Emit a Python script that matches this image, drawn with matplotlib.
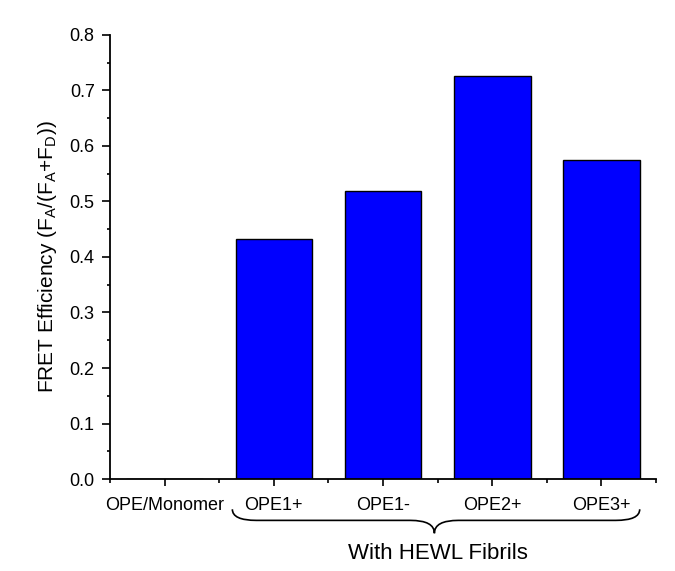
import numpy as np
import matplotlib
matplotlib.use("Agg")
import matplotlib.pyplot as plt
from matplotlib.path import Path
from matplotlib.patches import PathPatch
from matplotlib.ticker import MultipleLocator, FixedLocator, FormatStrFormatter
import matplotlib.transforms as mtransforms

plt.rcParams["font.family"] = ["Liberation Sans", "DejaVu Sans"]

# data
samples = ["OPE/Monomer", "OPE1+", "OPE1-", "OPE2+", "OPE3+"]
fret_eff = [0.0, 0.432, 0.519, 0.726, 0.575]
group_label = "With HEWL Fibrils"

fig = plt.figure(figsize=(6.75, 5.71), dpi=100)
ax = fig.add_axes([0.163, 0.161, 0.809, 0.778])

x = np.arange(1, len(samples) + 1)
ax.bar(x, fret_eff, width=0.7, color="#0000FF", edgecolor="black", linewidth=1.0)

ax.set_xlim(0.5, len(samples) + 0.5)
ax.set_ylim(0, 0.8)
ax.set_xticks(x)
ax.set_xticklabels(samples)
ax.xaxis.set_minor_locator(FixedLocator(np.arange(0.5, len(samples) + 1, 1.0)))
ax.yaxis.set_major_locator(MultipleLocator(0.1))
ax.yaxis.set_minor_locator(MultipleLocator(0.05))
ax.yaxis.set_major_formatter(FormatStrFormatter("%.1f"))

ax.tick_params(axis="x", which="major", direction="out", length=5, width=1.2, pad=8, labelsize=13)
ax.tick_params(axis="x", which="minor", direction="out", length=3, width=1.2)
ax.tick_params(axis="y", which="major", direction="out", length=6, width=1.2, pad=5, labelsize=13)
ax.tick_params(axis="y", which="minor", direction="out", length=2.5, width=1.2)

for s in ["top", "right"]:
    ax.spines[s].set_visible(False)
for s in ["left", "bottom"]:
    ax.spines[s].set_linewidth(1.3)

ax.set_ylabel(r"FRET Efficiency (F$_\mathregular{A}$/(F$_\mathregular{A}$+F$_\mathregular{D}$))",
              fontsize=15, labelpad=8)

# curly brace under the fibril samples
trans = mtransforms.blended_transform_factory(ax.transData, ax.transAxes)
x0, x1, xc = 1.62, 5.35, 3.47
y_top, y_mid, y_tip = -0.068, -0.093, -0.122
r = 0.22
verts = [
    (x0, y_top), (x0, y_mid), (x0 + r, y_mid),
    (xc - r, y_mid),
    (xc, y_mid), (xc, y_tip),
    (xc, y_mid), (xc + r, y_mid),
    (x1 - r, y_mid),
    (x1, y_mid), (x1, y_top),
]
codes = [Path.MOVETO, Path.CURVE3, Path.CURVE3,
         Path.LINETO,
         Path.CURVE3, Path.CURVE3,
         Path.CURVE3, Path.CURVE3,
         Path.LINETO,
         Path.CURVE3, Path.CURVE3]
brace = PathPatch(Path(verts, codes), transform=trans, fill=False,
                  edgecolor="black", linewidth=1.2, clip_on=False)
ax.add_patch(brace)
ax.text(3.5, -0.167, group_label, transform=trans, ha="center", va="center", fontsize=16)

fig.savefig("out.png", dpi=100)
